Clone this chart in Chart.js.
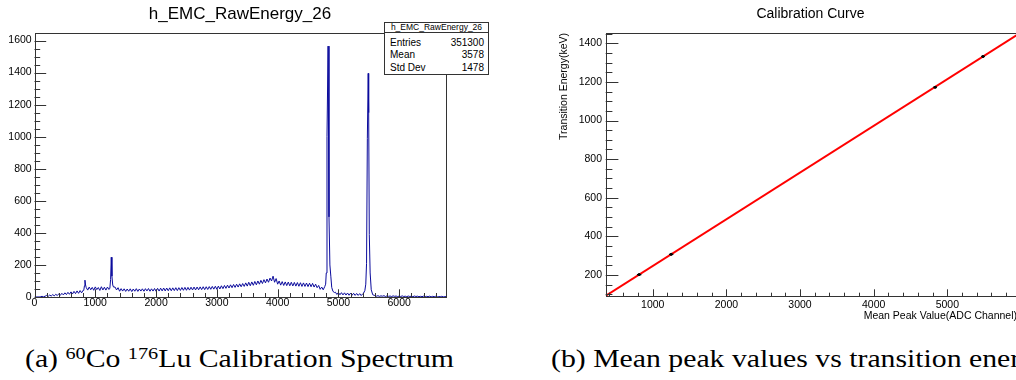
<!DOCTYPE html>
<html><head><meta charset="utf-8">
<script src="https://cdn.jsdelivr.net/npm/chart.js@4.4.0/dist/chart.umd.min.js"></script>
<style>
html,body{margin:0;padding:0;background:#fff;overflow:hidden;}
#wrap{position:relative;width:1016px;height:380px;overflow:hidden;background:#fff;font-family:"Liberation Sans",Arial,sans-serif;color:#000;}
canvas{position:absolute;top:0;}
#c1{left:0;}
#c2{left:540px;}
.t{position:absolute;white-space:nowrap;}
.cap{position:absolute;white-space:nowrap;font-family:"Liberation Serif","Times New Roman",serif;font-size:25px;line-height:25px;transform-origin:0 0;transform:scaleX(1.19);top:345.8px;}
.cap .sup{font-size:17px;vertical-align:8px;line-height:0;}
#stats{position:absolute;left:384px;top:22px;width:105px;height:53px;border:1px solid #333;box-sizing:border-box;background:#fff;}
</style></head>
<body>
<div id="wrap">
<canvas id="c1" width="470" height="330"></canvas>
<canvas id="c2" width="500" height="330"></canvas>

<div class="t" id="title1" style="left:90px;width:300px;text-align:center;top:4.6px;font-size:17px;line-height:17px;"></div>
<div class="t" id="title2" style="left:660.5px;width:300px;text-align:center;top:6.45px;font-size:14px;line-height:14px;"></div>
<div class="t" id="ytitle2" style="left:558.1px;top:333.3px;width:300px;text-align:right;font-size:10.5px;line-height:10.5px;transform-origin:0 0;transform:rotate(-90deg);"></div>
<div class="t" id="xtitle2" style="left:717px;top:309.6px;width:300px;text-align:right;font-size:10.5px;line-height:10.5px;"></div>

<div id="stats"></div>
<div style="position:absolute;left:384px;top:32px;width:105px;height:1px;background:#333;"></div>
<div class="t" id="statsHead" style="left:384px;width:105px;text-align:center;top:22.8px;font-size:8.5px;line-height:8.5px;"></div>
<div id="statsRows"></div>

<div class="cap" style="left:25px;">(a) <span class="sup">60</span>Co <span class="sup">176</span>Lu Calibration Spectrum</div>
<div class="cap" style="left:551px;">(b) Mean peak values vs transition energies</div>
</div>

<script>
// ---------------- DATA ----------------
const spectrumTitle = 'h_EMC_RawEnergy_26';
const statsLabels = ['Entries', 'Mean', 'Std Dev'];
const statsValues = ['351300', '3578', '1478'];

// Histogram (ADC channel vs counts)
const adcChannel = [
  0,25,50,75,100,125,150,175,200,225,250,275,300,325,350,375,400,425,450,475,500,525,550,575,600,625,650,675,700,725,750,775,800,
  812,822,830,840,850,
  875,900,925,950,975,1000,1025,1050,1075,1100,1125,1150,1175,1200,1225,
  1240,1252,1263,1274,1287,1300,
  1325,1350,1375,1400,1425,1450,1475,1500,1525,1550,1575,1600,1625,1650,1675,1700,1725,1750,1775,1800,1825,1850,1875,1900,1925,1950,1975,
  2000,2025,2050,2075,2100,2125,2150,2175,2200,2225,2250,2275,2300,2325,2350,2375,2400,2425,2450,2475,2500,2525,2550,2575,2600,2625,2650,2675,2700,2725,2750,2775,2800,2825,2850,2875,2900,2925,2950,2975,
  3000,3025,3050,3075,3100,3125,3150,3175,3200,3225,3250,3275,3300,3325,3350,3375,3400,3425,3450,3475,
  3500,3525,3550,3575,3600,3625,3650,3675,3700,3725,3750,3775,3800,3825,3850,3875,
  3900,3925,3950,3975,4000,4025,
  4050,4075,4100,4125,4150,4175,4200,4225,4250,4275,4300,4325,4350,4375,4400,4425,4450,4475,4500,4525,4550,4575,
  4600,4625,4650,4675,4700,4725,4750,
  4775,4790,4800,4812,4830,4845,4860,4875,4890,4910,4935,
  4950,4975,5000,5025,5050,5075,5100,5125,5150,5175,5200,5225,5250,5275,5300,5325,5350,5375,5400,
  5415,5435,5450,5463,5476,5490,5498,5508,5522,5540,5565,
  5600,5625,5650,5675,5700,5725,5750,5775,5800,5825,5850,5875,5900,5925,5950,5975,6000,6025,6050,6075,6100,6125,6150,6175,6200,6225,6250,6275,6300,6325,6350,6375,6400,6425,6450,6475,6500,6525,6550,6575,6600,6625,6650,6675,6700,6725,6750,
  6770
];
const counts = [
  0,0,1,0,2,4,1,5,10,4,12,6,15,7,17,9,20,11,23,13,26,15,29,17,32,19,35,21,38,23,40,26,42,
  45,70,105,75,60,
  43,62,45,60,42,63,46,59,41,64,44,61,43,62,47,
  55,110,248,130,75,62,
  62,44,58,36,52,37,51,35,50,36,51,34,50,36,52,35,50,37,51,36,52,38,53,36,51,37,53,
  36,54,37,55,38,56,38,56,39,57,39,57,40,58,40,58,41,59,42,60,42,60,43,61,44,62,44,62,45,63,46,64,46,64,47,65,48,66,49,67,
  48,68,50,70,52,72,54,74,56,76,58,78,60,80,62,82,64,84,66,88,
  68,92,70,94,73,97,76,100,80,104,84,108,88,112,92,118,
  100,130,92,115,80,100,
  74,96,72,94,71,93,70,92,69,91,68,90,67,89,66,88,66,87,65,86,64,85,
  62,80,58,72,48,62,45,
  65,80,150,1000,1565,500,200,130,60,35,28,
  30,16,28,14,27,13,26,12,25,11,24,11,23,10,22,10,21,9,20,
  25,40,80,210,990,1395,1150,390,150,45,14,
  9,5,8,4,7,5,8,3,7,4,6,3,7,4,6,2,6,3,7,3,5,2,6,3,5,2,6,3,5,2,4,2,5,1,4,2,5,1,4,2,4,1,3,2,4,1,3,
  2
];
const spectrumXTicks = [0, 1000, 2000, 3000, 4000, 5000, 6000];
const spectrumYTicks = [0, 200, 400, 600, 800, 1000, 1200, 1400, 1600];

// Calibration curve
const calibTitle = 'Calibration Curve';
const calibXTitle = 'Mean Peak Value(ADC Channel)';
const calibYTitle = 'Transition Energy(keV)';
const peakMean = [815, 1250, 4835, 5485];
const peakMeanErr = [30, 30, 25, 25];
const transitionEnergy = [202, 307, 1173, 1332];
const transitionEnergyErr = [6, 6, 6, 6];
const fitX = [361, 5960];
const fitY = [92, 1447];
const calibXTicks = [1000, 2000, 3000, 4000, 5000];
const calibYTicks = [200, 400, 600, 800, 1000, 1200, 1400];

// ---------------- TEXT ----------------
document.getElementById('title1').textContent = spectrumTitle;
document.getElementById('statsHead').textContent = spectrumTitle;
document.getElementById('title2').textContent = calibTitle;
document.getElementById('xtitle2').textContent = calibXTitle;
document.getElementById('ytitle2').textContent = calibYTitle;
(function(){
  const rows = document.getElementById('statsRows');
  const baselines = [46, 58.5, 71];
  statsLabels.forEach((lab, i) => {
    const top = baselines[i] - 8.465;
    const a = document.createElement('div');
    a.className = 't';
    a.style.cssText = `left:390px;top:${top}px;font-size:10px;line-height:10px;`;
    a.textContent = lab;
    const b = document.createElement('div');
    b.className = 't';
    b.style.cssText = `left:420px;width:64px;text-align:right;top:${top}px;font-size:10px;line-height:10px;`;
    b.textContent = statsValues[i];
    rows.appendChild(a); rows.appendChild(b);
  });
})();

// ---------------- PLUGINS ----------------
const rootAxes = {
  id: 'rootAxes',
  afterDatasetsDraw(chart, args, o) {
    const {ctx, chartArea: a, scales} = chart;
    const xs = scales.x, ys = scales.y;
    ctx.save();
    ctx.strokeStyle = o.color;
    ctx.lineWidth = 1;
    ctx.beginPath();
    const isMaj = (v, m) => Math.abs(v / m - Math.round(v / m)) < 1e-6;
    for (let v = o.x.first; v <= xs.max + 1e-9; v += o.x.minor) {
      if (v < xs.min) continue;
      const px = Math.round(xs.getPixelForValue(v)) + 0.5;
      const len = isMaj(v, o.x.major) ? o.x.majorLen : o.x.minorLen;
      ctx.moveTo(px, a.bottom); ctx.lineTo(px, a.bottom - len);
    }
    for (let v = o.y.first; v <= ys.max + 1e-9; v += o.y.minor) {
      if (v < ys.min) continue;
      const py = Math.round(ys.getPixelForValue(v)) + 0.5;
      const len = isMaj(v, o.y.major) ? o.y.majorLen : o.y.minorLen;
      ctx.moveTo(a.left, py); ctx.lineTo(a.left + len, py);
    }
    ctx.stroke();
    ctx.strokeRect(Math.round(a.left) + 0.5, Math.round(a.top) + 0.5,
                   Math.round(a.right) - Math.round(a.left), Math.round(a.bottom) - Math.round(a.top));
    ctx.restore();
  }
};

const errorBars = {
  id: 'errorBars',
  afterDatasetsDraw(chart) {
    const {ctx, scales} = chart;
    ctx.save();
    ctx.strokeStyle = '#000';
    ctx.lineWidth = 1.2;
    ctx.beginPath();
    peakMean.forEach((x, i) => {
      const y = transitionEnergy[i];
      const px = scales.x.getPixelForValue(x), py = scales.y.getPixelForValue(y);
      const x0 = scales.x.getPixelForValue(x - peakMeanErr[i]), x1 = scales.x.getPixelForValue(x + peakMeanErr[i]);
      const y0 = scales.y.getPixelForValue(y - transitionEnergyErr[i]), y1 = scales.y.getPixelForValue(y + transitionEnergyErr[i]);
      ctx.moveTo(x0, py); ctx.lineTo(x1, py);
      ctx.moveTo(px, y0); ctx.lineTo(px, y1);
    });
    ctx.stroke();
    ctx.restore();
  }
};

const tickFont = {family: "'Liberation Sans', Arial, sans-serif", size: 10.5};

function axisX(min, max, ticks, height, pad) {
  return {
    type: 'linear', min, max,
    grid: {display: false, drawTicks: false},
    border: {display: false},
    ticks: {autoSkip: false, maxRotation: 0, minRotation: 0, padding: pad, font: tickFont, color: '#000',
            callback: v => String(v)},
    afterBuildTicks: s => { s.ticks = ticks.map(v => ({value: v})); },
    afterFit: s => { s.height = height; s.paddingLeft = 0; s.paddingRight = 0; }
  };
}
function axisY(min, max, ticks, width, pad) {
  return {
    type: 'linear', min, max,
    grid: {display: false, drawTicks: false},
    border: {display: false},
    ticks: {autoSkip: false, padding: pad, font: tickFont, color: '#000', callback: v => String(v)},
    afterBuildTicks: s => { s.ticks = ticks.map(v => ({value: v})); },
    afterFit: s => { s.width = width; s.paddingTop = 0; s.paddingBottom = 0; }
  };
}

// ---------------- CHART (a) ----------------
new Chart(document.getElementById('c1'), {
  type: 'line',
  data: {
    datasets: [{
      data: adcChannel.map((x, i) => ({x, y: counts[i]})),
      borderColor: '#0b0b9c',
      borderWidth: 1,
      pointRadius: 0,
      tension: 0,
      fill: false
    }]
  },
  options: {
    responsive: false, animation: false, events: [],
    layout: {padding: {left: 0, top: 33.3, right: 24, bottom: 0}},
    plugins: {
      legend: {display: false}, tooltip: {enabled: false}, title: {display: false},
      rootAxes: {
        color: '#333',
        x: {first: 0, minor: 200, major: 1000, majorLen: 7.7, minorLen: 4},
        y: {first: 0, minor: 50, major: 200, majorLen: 11.7, minorLen: 5.7}
      }
    },
    scales: {
      x: axisX(0, 6770, spectrumXTicks, 33, 0),
      y: axisY(0, 1645, spectrumYTicks, 34.5, 2.8)
    }
  },
  plugins: [rootAxes]
});

// ---------------- CHART (b) ----------------
new Chart(document.getElementById('c2'), {
  type: 'scatter',
  data: {
    datasets: [
      {
        data: fitX.map((x, i) => ({x, y: fitY[i]})),
        showLine: true, borderColor: '#ff0000', borderWidth: 2, pointRadius: 0, order: 2
      },
      {
        data: peakMean.map((x, i) => ({x, y: transitionEnergy[i]})),
        showLine: false, pointRadius: 1.5, pointBackgroundColor: '#000', pointBorderColor: '#000',
        pointBorderWidth: 0, order: 1
      }
    ]
  },
  options: {
    responsive: false, animation: false, events: [],
    layout: {padding: {left: 0, top: 33.3, right: 22, bottom: 0}},
    plugins: {
      legend: {display: false}, tooltip: {enabled: false}, title: {display: false},
      rootAxes: {
        color: '#333',
        x: {first: 400, minor: 200, major: 1000, majorLen: 6.7, minorLen: 3.3},
        y: {first: 100, minor: 50, major: 200, majorLen: 12.7, minorLen: 6.7}
      }
    },
    scales: {
      x: axisX(361, 5960, calibXTicks, 34, 2.5),
      y: axisY(91, 1452, calibYTicks, 65.7, 3.7)
    }
  },
  plugins: [rootAxes, errorBars]
});
</script>
</body></html>
